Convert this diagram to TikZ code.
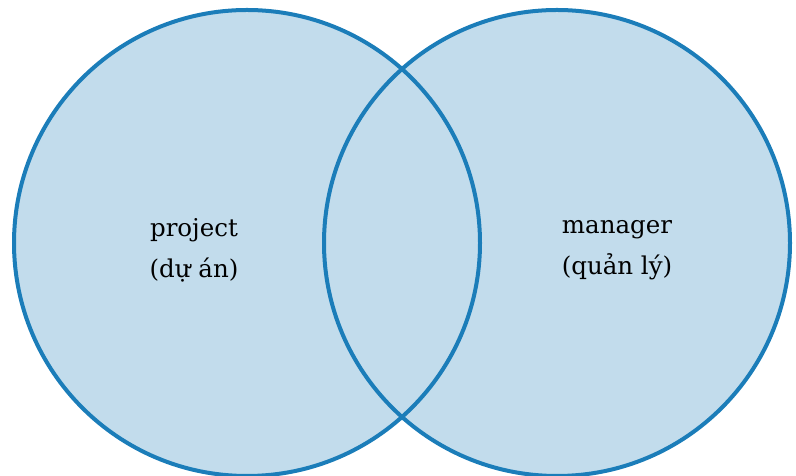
\documentclass[tikz,border=0pt]{standalone}
\usepackage{fontspec}
\setmainfont{DejaVu Serif}
\definecolor{vennfill}{HTML}{C2DCEC}
\definecolor{vennline}{HTML}{1B7DB9}
\begin{document}
\begin{tikzpicture}[x=1pt, y=1pt, line join=round, line cap=round, font=\fontsize{24.5}{41}\selectfont]
    \def\r{233pt} \def\cy{233} % ban kinh, tam
    \useasboundingbox (0,0) rectangle (796,476);
    \coordinate (L) at (247,\cy);
    \coordinate (R) at (557,\cy);
    \fill[vennfill] (L) circle[radius=\r] (R) circle[radius=\r];
    \draw[vennline, line width=4pt] (L) circle[radius=\r] (R) circle[radius=\r];
    \node[align=center] (project) at (194,226) {project\\(dự án)};
    \node[align=center] (manager) at (617,226) {manager\\(quản lý)};
\end{tikzpicture}
\end{document}
